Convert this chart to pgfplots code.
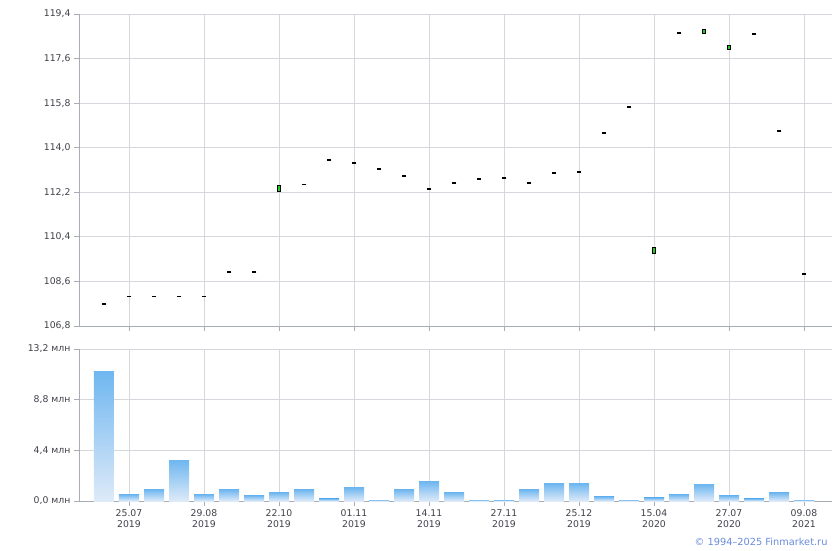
\documentclass[border=0pt]{standalone}
\usepackage{pgfplots}
\pgfplotsset{compat=1.18}
\usepackage{fontspec}
\setmainfont{DejaVu Sans}

\definecolor{axisgray}{RGB}{168,172,180}
\definecolor{gridgray}{RGB}{212,216,220}
\definecolor{labelgray}{RGB}{64,64,74}
\definecolor{candlegreen}{RGB}{30,205,30}
\definecolor{bartop}{RGB}{112,183,240}
\definecolor{barbot}{RGB}{222,234,248}
\definecolor{copyblue}{RGB}{105,140,220}

\pgfplotsset{
  finstyle/.style={
    scale only axis,
    width=753pt,
    xmin=-1, xmax=29.12,
    axis x line*=bottom, axis y line*=left,
    axis line style={axisgray, line width=0.8pt},
    grid=major,
    grid style={gridgray, line width=0.8pt},
    tick style={axisgray, line width=0.8pt},
    tick align=outside,
    major tick length=5pt,
    xtick={1,4,7,10,13,16,19,22,25,28},
    tick label style={font=\fontsize{9.3}{11.5}\selectfont, text=labelgray},
  },
  candle/.style={draw=black, fill=candlegreen, line width=0.9pt},
  vol/.style={ybar, bar width=0.8, draw=none, top color=bartop, bottom color=barbot},
}

\begin{document}
\begin{tikzpicture}
\path[use as bounding box] (-79pt,14pt) rectangle (761pt,-536pt);

% price panel
\begin{axis}[finstyle,
  at={(0pt,0pt)}, anchor=north west,
  height=312pt,
  ymin=106.8, ymax=119.4,
  ytick={106.8,108.6,110.4,112.2,114.0,115.8,117.6,119.4},
  yticklabels={{106,8},{108,6},{110,4},{112,2},{114,0},{115,8},{117,6},{119,4}},
  xticklabels={},
]
% days with open = close
\addplot[only marks, mark=-, mark size=2.3pt, mark options={black, line width=1.3pt}]
  coordinates {
  (0,107.69)(1,107.98)(2,107.98)(3,107.98)(4,107.98)(5,108.98)(6,108.98)
  (8,112.51)(9,113.50)(10,113.38)(11,113.14)(12,112.86)(13,112.33)
  (14,112.57)(15,112.74)(16,112.78)(17,112.57)(18,112.98)(19,113.02)
  (20,114.59)(21,115.64)(23,118.63)(26,118.59)(27,114.67)(28,108.90)
  };
% rising candles, open -> close
\addplot[candle] coordinates {(6.93,112.24)(7.07,112.24)(7.07,112.49)(6.93,112.49)} -- cycle;
\addplot[candle] coordinates {(21.93,109.75)(22.07,109.75)(22.07,109.99)(21.93,109.99)} -- cycle;
\addplot[candle] coordinates {(23.93,118.62)(24.07,118.62)(24.07,118.77)(23.93,118.77)} -- cycle;
\addplot[candle] coordinates {(24.93,117.97)(25.07,117.97)(25.07,118.11)(24.93,118.11)} -- cycle;
\end{axis}

% volume panel
\begin{axis}[finstyle,
  at={(0pt,-335pt)}, anchor=north west,
  height=152pt,
  ymin=0, ymax=13.2,
  ytick={0,4.4,8.8,13.2},
  yticklabels={{0,0 млн},{4,4 млн},{8,8 млн},{13,2 млн}},
  xticklabels={{25.07\\2019},{29.08\\2019},{22.10\\2019},{01.11\\2019},{14.11\\2019},
    {27.11\\2019},{25.12\\2019},{15.04\\2020},{27.07\\2020},{09.08\\2021}},
  xticklabel style={align=center},
]
\addplot[vol] coordinates {(0,11.21)};
\addplot[vol] coordinates {(1,0.55)};
\addplot[vol] coordinates {(2,0.98)};
\addplot[vol] coordinates {(3,3.50)};
\addplot[vol] coordinates {(4,0.55)};
\addplot[vol] coordinates {(5,0.98)};
\addplot[vol] coordinates {(6,0.46)};
\addplot[vol] coordinates {(7,0.72)};
\addplot[vol] coordinates {(8,0.98)};
\addplot[vol] coordinates {(9,0.20)};
\addplot[vol] coordinates {(10,1.15)};
\addplot[vol] coordinates {(11,0.11)};
\addplot[vol] coordinates {(12,0.98)};
\addplot[vol] coordinates {(13,1.67)};
\addplot[vol] coordinates {(14,0.72)};
\addplot[vol] coordinates {(15,0.11)};
\addplot[vol] coordinates {(16,0.10)};
\addplot[vol] coordinates {(17,0.98)};
\addplot[vol] coordinates {(18,1.50)};
\addplot[vol] coordinates {(19,1.50)};
\addplot[vol] coordinates {(20,0.37)};
\addplot[vol] coordinates {(21,0.11)};
\addplot[vol] coordinates {(22,0.28)};
\addplot[vol] coordinates {(23,0.55)};
\addplot[vol] coordinates {(24,1.41)};
\addplot[vol] coordinates {(25,0.46)};
\addplot[vol] coordinates {(26,0.20)};
\addplot[vol] coordinates {(27,0.72)};
\addplot[vol] coordinates {(28,0.11)};
\end{axis}

\node[anchor=east, text=copyblue, font=\fontsize{9.8}{12}\selectfont] at (752pt,-528pt) {© 1994–2025 Finmarket.ru};
\end{tikzpicture}
\end{document}
